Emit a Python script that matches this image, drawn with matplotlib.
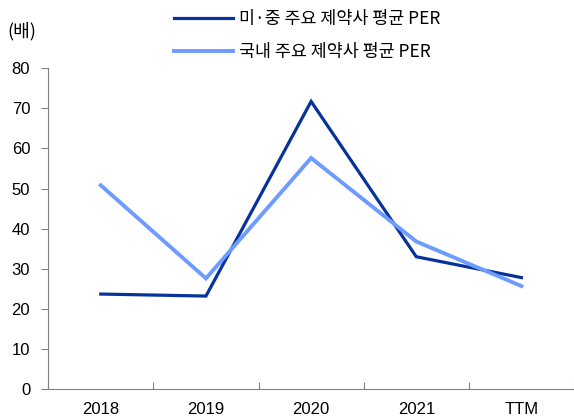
import matplotlib
matplotlib.use('Agg')
import matplotlib.pyplot as plt
import numpy as np

plt.rcParams['font.family'] = ['Liberation Sans', 'Noto Sans CJK KR', 'DejaVu Sans']

# 데이터
categories = ['2018', '2019', '2020', '2021', 'TTM']
us_cn_per = [23.7, 23.2, 71.7, 33.0, 27.8]
kr_per = [50.8, 27.6, 57.6, 36.8, 25.7]
labels = ['미·중 주요 제약사 평균 PER', '국내 주요 제약사 평균 PER']

dark = '#06329A'
light = '#6E9BFF'

fig = plt.figure(figsize=(5.74, 4.18), dpi=100)
ax = fig.add_axes([0.084, 0.069, 0.916, 0.768])

x = np.arange(len(categories))
l1, = ax.plot(x, us_cn_per, color=dark, lw=2.3, solid_joinstyle='miter')
l2, = ax.plot(x, kr_per, color=light, lw=2.8, solid_joinstyle='miter')

ax.set_xlim(-0.5, len(categories) - 0.5)
ax.set_ylim(0, 80)
ax.set_yticks(range(0, 81, 10))
ax.set_xticks(np.arange(-0.5, len(categories), 1.0))
ax.set_xticklabels([])
ax.set_xticks(x, minor=True)
ax.set_xticklabels(categories, minor=True)
ax.tick_params(axis='x', which='minor', length=0, pad=9, labelsize=12)
ax.tick_params(axis='x', which='major', length=5, direction='in', color='#808080')
ax.tick_params(axis='y', length=5, color='#808080', labelsize=12, pad=8)

for s in ['top', 'right']:
    ax.spines[s].set_visible(False)
for s in ['left', 'bottom']:
    ax.spines[s].set_color('#808080')

fig.text(0.012, 0.925, '(배)', fontsize=13, va='center',
         family=['Noto Sans CJK KR', 'DejaVu Sans'])

leg = fig.legend([l1, l2], labels, loc='center', bbox_to_anchor=(0.535, 0.915),
                 frameon=False, handlelength=3.4, handletextpad=0.3,
                 labelspacing=0.85,
                 prop={'family': ['Noto Sans CJK KR', 'DejaVu Sans'], 'size': 12.5})

fig.savefig('out.png', dpi=100)
